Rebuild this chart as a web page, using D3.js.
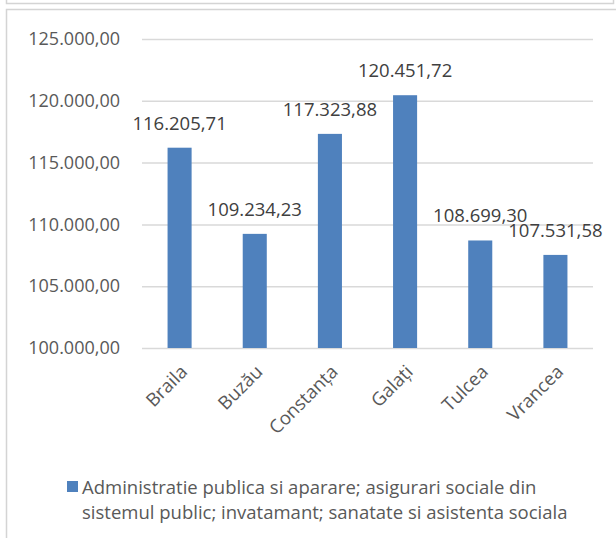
<!DOCTYPE html>
<html><head><meta charset="utf-8">
<script src="https://cdn.jsdelivr.net/npm/d3@7"></script>
<style>body{margin:0;background:#fff}svg{display:block;font-family:"Open Sans",sans-serif}</style>
</head><body>
<svg id="c" width="616" height="538"></svg>
<script>
const categories = ["Braila","Buzău","Constanța","Galați","Tulcea","Vrancea"];
const values = [116205.71, 109234.23, 117323.88, 120451.72, 108699.30, 107531.58];
const yTicks = [100000,105000,110000,115000,120000,125000];
const seriesName = ["Administratie publica si aparare; asigurari sociale din","sistemul public; invatamant; sanatate si asistenta sociala"];

const fmt = v => { const s = d3.format(",.2f")(v); return s.replace(/,/g,"X").replace(/\./g,",").replace(/X/g,"."); };
const svg = d3.select("#c");
const textCol = "#595959", gridCol = "#d9d9d9", barCol = "#4f81bd";

// frames
svg.append("path").attr("d","M6.5,-2 V3.5 H613.5 V-2").attr("fill","none").attr("stroke","#d4d4d4").attr("stroke-width",1.5);
svg.append("path").attr("d","M6.5,538 V9.5 H618").attr("fill","none").attr("stroke","#d4d4d4").attr("stroke-width",1.5);

const x = d3.scaleBand().domain(categories).range([142,593]).paddingInner(0.68).paddingOuter(0.34);
const y = d3.scaleLinear().domain([100000,125000]).range([348,39]);

const yAxis = svg.append("g").attr("transform","translate(142,0)")
  .call(d3.axisLeft(y).tickValues(yTicks).tickFormat(fmt).tickSize(-451).tickPadding(22));
yAxis.select(".domain").remove();
yAxis.selectAll(".tick line").attr("stroke",gridCol).attr("stroke-width",1.5);
yAxis.selectAll(".tick text").attr("fill",textCol).attr("font-size",18).attr("font-family","Open Sans");

svg.append("g").selectAll("rect").data(values).join("rect")
  .attr("x",(d,i)=>x(categories[i])).attr("width",x.bandwidth())
  .attr("y",d=>y(d)).attr("height",d=>y(100000)-y(d)).attr("fill",barCol);

svg.append("g").selectAll("text").data(values).join("text")
  .attr("x",(d,i)=>x(categories[i])+x.bandwidth()/2).attr("y",d=>y(d)-18)
  .attr("text-anchor","middle").attr("fill","#404040").attr("font-size",18.5).text(d=>fmt(d));

svg.append("g").selectAll("text").data(categories).join("text")
  .attr("transform",d=>`translate(${x(d)+x.bandwidth()/2+9},${373}) rotate(-45)`)
  .attr("text-anchor","end").attr("fill",textCol).attr("font-size",18.5).text(d=>d);

// legend
svg.append("rect").attr("x",67).attr("y",481).attr("width",11).attr("height",11).attr("fill",barCol);
svg.append("g").selectAll("text").data(seriesName).join("text")
  .attr("x",82).attr("y",(d,i)=>494+i*25).attr("fill",textCol).attr("font-size",18.5).text(d=>d);
</script>
</body></html>
